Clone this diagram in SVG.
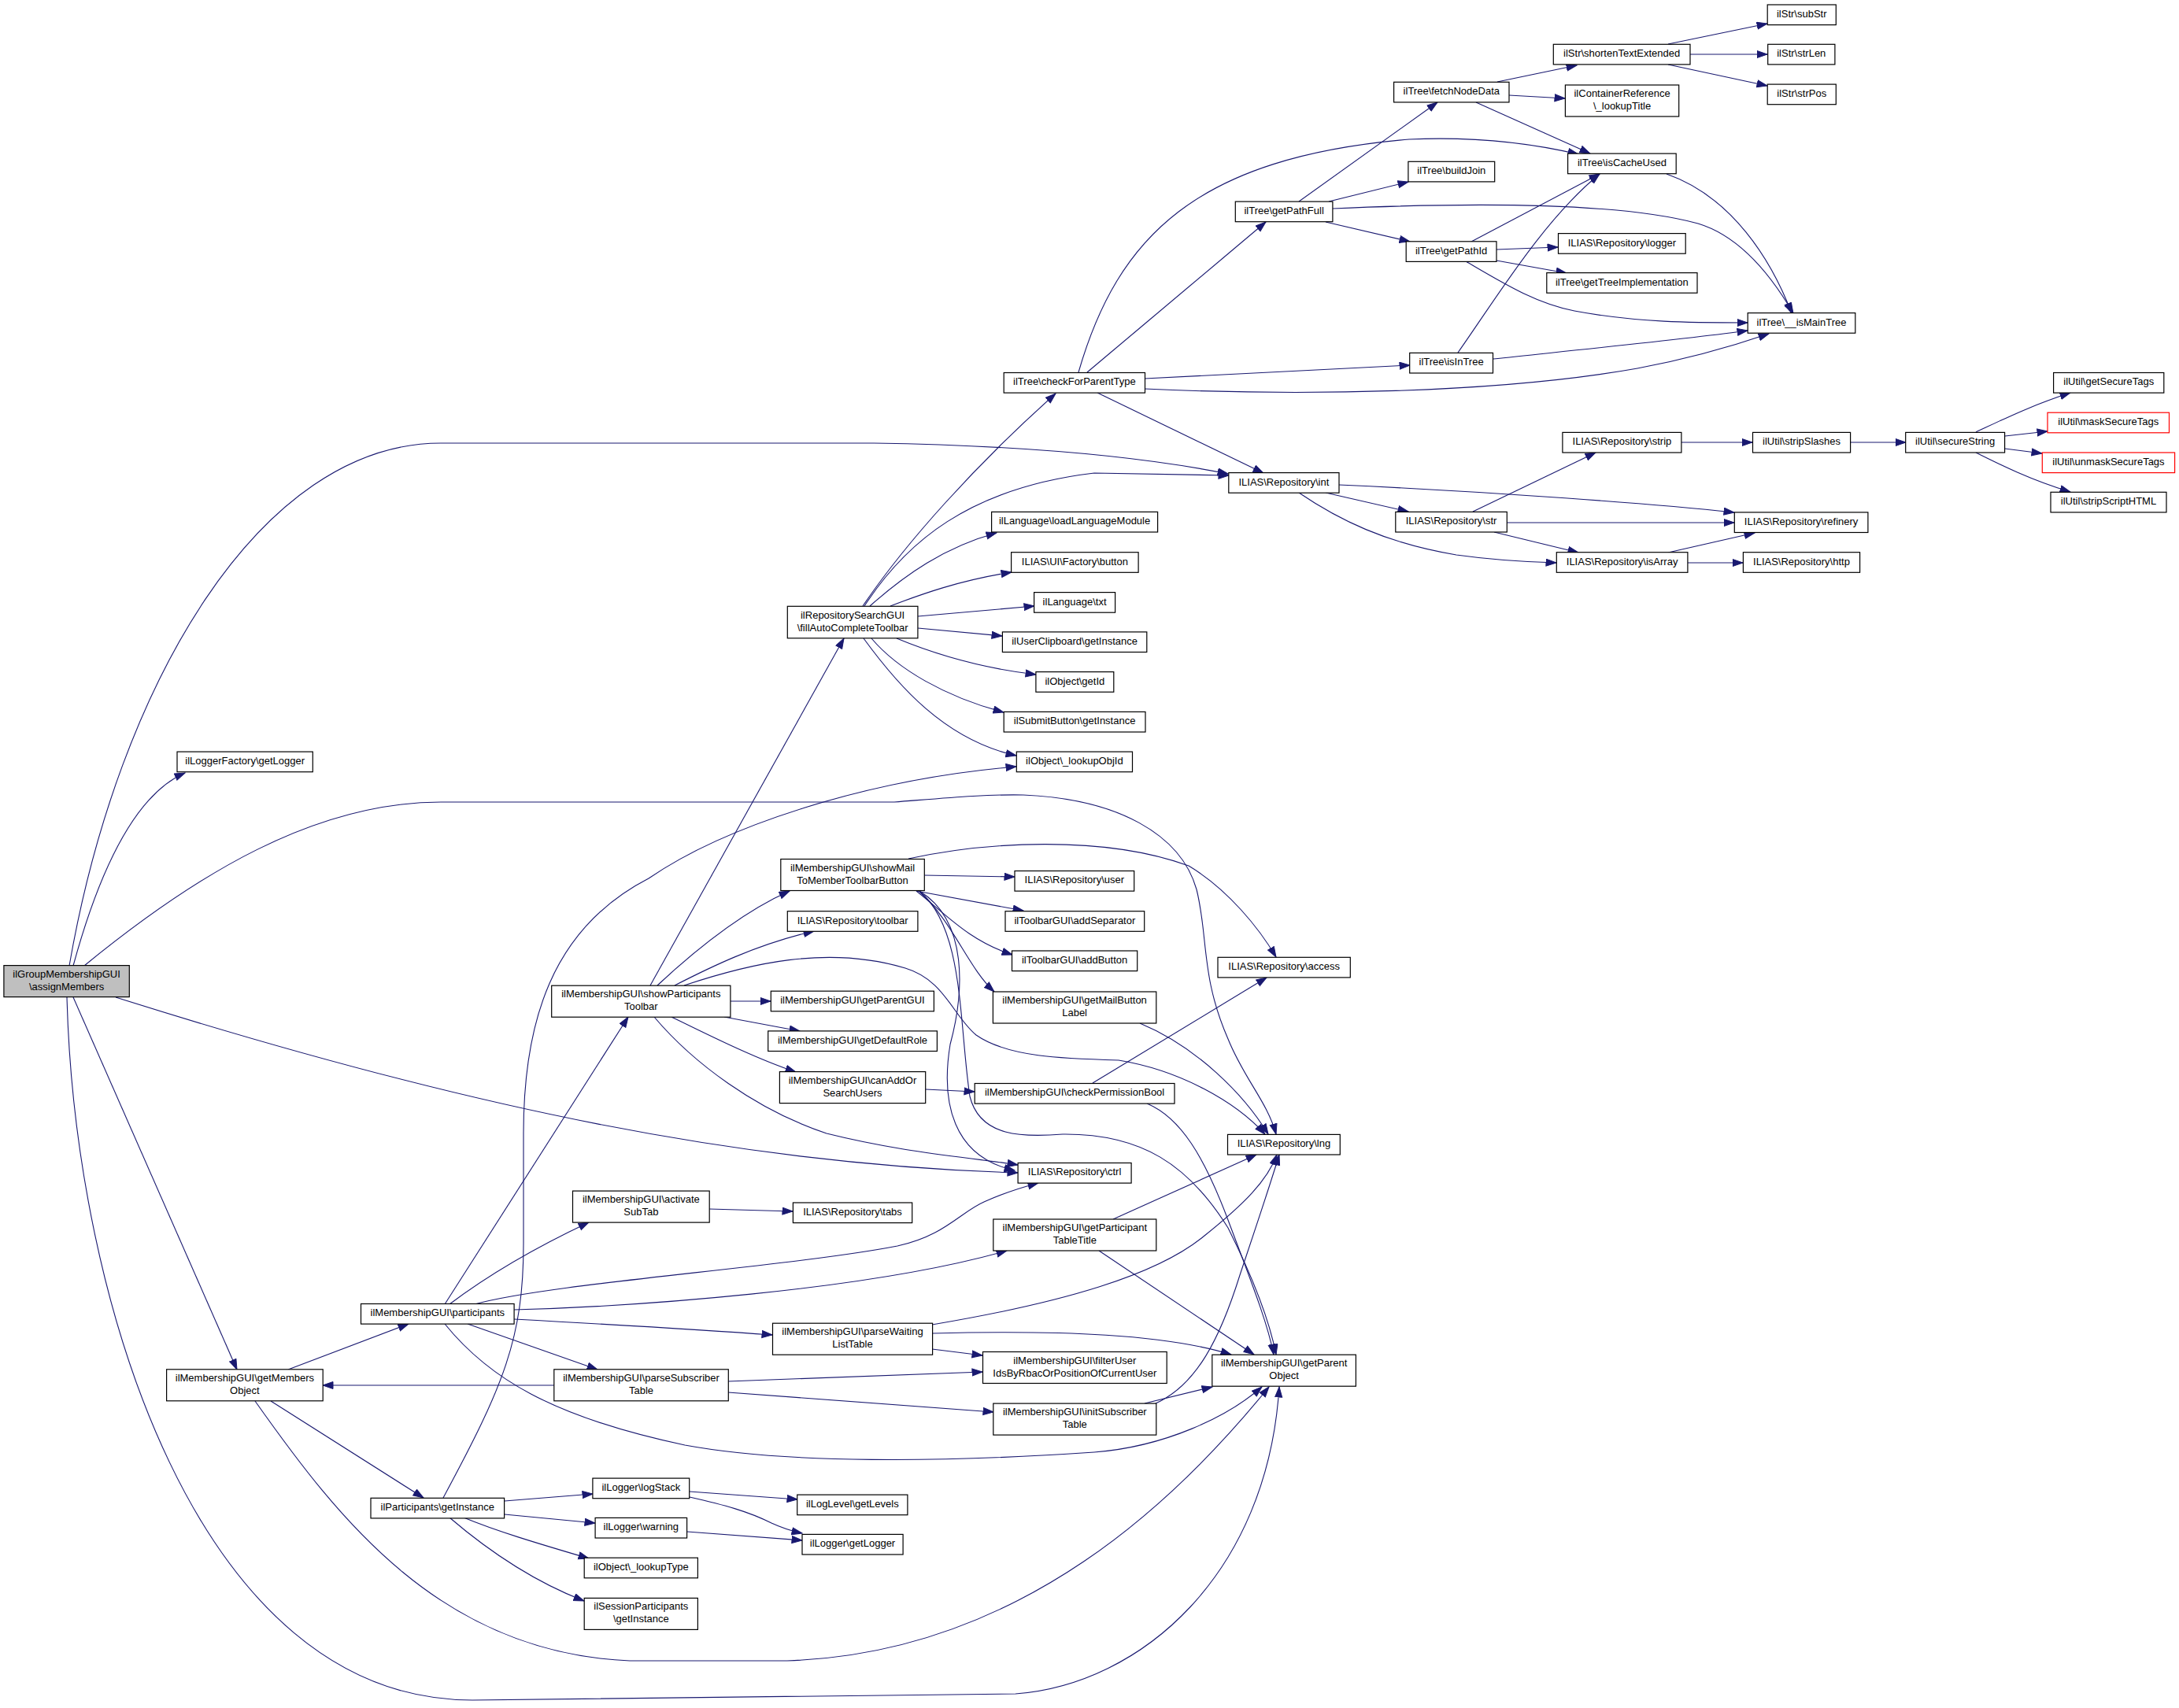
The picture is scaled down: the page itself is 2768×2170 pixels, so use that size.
<svg xmlns="http://www.w3.org/2000/svg" width="2768" height="2170" viewBox="0 0 2768 2170">
<defs>
<style>
.n rect{fill:#ffffff;stroke:#000000;stroke-width:1.2}
.n.root rect{fill:#bfbfbf}
.n.red rect{stroke:#ff0000}
.n text{font-family:"Liberation Sans",Arial,Helvetica,sans-serif;font-size:13px;fill:#000000;text-anchor:middle}
.e path{fill:none;stroke:#191970;stroke-width:1.1;marker-end:url(#arr)}
</style>
<marker id="arr" markerUnits="userSpaceOnUse" markerWidth="15" markerHeight="11" refX="13.5" refY="5" orient="auto">
<path d="M0.5,0.5 L13.5,5 L0.5,9.5 z" fill="#191970" stroke="#191970" stroke-width="1"/>
</marker>
</defs>
<rect x="0" y="0" width="2768" height="2170" fill="#ffffff"/>
<g id="edges" class="e">
<path d="M88,1227 C150,870 330,563 560,563 L1110,563 C1300,566 1450,580 1560,602"/>
<path d="M93,1227 C125,1110 170,1010 235,982"/>
<path d="M107,1227 C250,1110 400,1019 560,1019 L1136,1019 C1200,1014 1250,1009 1300,1010 C1420,1015 1500,1060 1520,1130 C1535,1190 1525,1240 1560,1320 C1580,1370 1610,1400 1621,1441"/>
<path d="M147,1267 C600,1410 950,1480 1293,1490"/>
<path d="M93,1267 L301,1740"/>
<path d="M85,1267 C95,1650 250,2160 600,2160 L1290,2152 C1450,2140 1610,2000 1625,1762"/>
<path d="M366,1740 L519,1682"/>
<path d="M344,1780 L538,1903"/>
<path d="M324,1780 C430,1930 560,2100 800,2110 L1000,2110 C1300,2100 1500,1900 1612,1762"/>
<path d="M565,1657 L798,1292"/>
<path d="M571,1657 C620,1620 680,1585 748,1553"/>
<path d="M603,1657 C700,1630 1000,1610 1140,1583 C1200,1570 1220,1540 1250,1527 C1270,1518 1300,1508 1319,1503"/>
<path d="M653,1664 C800,1660 1100,1640 1279,1589"/>
<path d="M653,1676 C800,1684 900,1690 981,1696"/>
<path d="M594,1682 L759,1740"/>
<path d="M565,1682 C620,1750 700,1800 870,1836 C1000,1860 1200,1858 1390,1845 C1480,1838 1560,1800 1603,1762"/>
<path d="M704,1760 L410,1760"/>
<path d="M925,1755 L1248,1743"/>
<path d="M925,1769 L1262,1794"/>
<path d="M563,1903 C640,1760 665,1700 665,1580 L665,1440 C665,1300 700,1180 824,1116 C920,1050 1100,990 1291,974"/>
<path d="M641,1907 L753,1898"/>
<path d="M641,1924 L756,1935"/>
<path d="M589,1928 C630,1945 680,1960 748,1980"/>
<path d="M571,1928 C620,1970 680,2010 742,2034"/>
<path d="M876,1895 L1013,1905"/>
<path d="M876,1902 C920,1912 950,1920 980,1935 C995,1942 1005,1945 1019,1948"/>
<path d="M873,1946 L1019,1957"/>
<path d="M901,1536 L1007,1539"/>
<path d="M826,1252 L1072,811"/>
<path d="M835,1252 C880,1210 940,1160 1003,1132"/>
<path d="M857,1252 C900,1230 960,1200 1034,1183"/>
<path d="M869,1252 C950,1225 1050,1200 1150,1230 C1200,1245 1210,1290 1240,1315 C1280,1343 1350,1345 1421,1347 C1500,1360 1570,1400 1607,1441"/>
<path d="M928,1272 L979,1272"/>
<path d="M920,1292 L1016,1310"/>
<path d="M853,1292 C900,1315 960,1345 1011,1362"/>
<path d="M831,1292 C880,1350 960,1410 1050,1440 C1150,1465 1230,1470 1293,1480"/>
<path d="M1096,770 C1150,690 1240,590 1341,500"/>
<path d="M1098,770 C1150,690 1230,620 1390,601 L1561,604"/>
<path d="M1105,770 C1150,730 1200,695 1266,677"/>
<path d="M1131,770 C1170,755 1220,737 1285,727"/>
<path d="M1166,783 L1314,770"/>
<path d="M1166,798 L1273,808"/>
<path d="M1139,811 C1180,828 1240,848 1316,857"/>
<path d="M1107,811 C1140,850 1200,885 1275,905"/>
<path d="M1097,811 C1140,870 1200,940 1291,960"/>
<path d="M1370,473 C1420,300 1520,200 1790,177 C1880,173 1950,183 2005,196"/>
<path d="M1381,473 L1608,282"/>
<path d="M1454,481 L1791,464"/>
<path d="M1454,494 C1650,503 1900,500 2080,468 C2150,455 2200,440 2247,424"/>
<path d="M1394,499 L1605,601"/>
<path d="M1650,256 L1826,130"/>
<path d="M1688,256 L1789,231"/>
<path d="M1684,282 L1791,307"/>
<path d="M1693,265 C1850,258 2050,255 2157,284 C2210,300 2250,350 2278,398"/>
<path d="M1902,104 L2003,83"/>
<path d="M1917,121 L1988,125"/>
<path d="M1875,130 L2020,195"/>
<path d="M1869,307 L2032,221"/>
<path d="M1901,317 L1979,314"/>
<path d="M1901,331 L1990,347"/>
<path d="M1862,332 C1910,360 1950,385 2000,395 C2080,410 2150,410 2220,410"/>
<path d="M1852,448 C1900,380 1960,280 2032,221"/>
<path d="M1897,456 C2000,445 2150,430 2220,420"/>
<path d="M2117,221 C2200,250 2250,330 2276,398"/>
<path d="M2119,56 L2245,30"/>
<path d="M2147,69 L2245,69"/>
<path d="M2119,82 L2245,109"/>
<path d="M1684,626 L1789,650"/>
<path d="M1650,626 C1700,660 1760,690 1850,705 C1900,712 1940,714 1977,715"/>
<path d="M1701,616 C1900,625 2100,640 2203,651"/>
<path d="M1871,650 L2027,575"/>
<path d="M1914,664 L2203,664"/>
<path d="M1898,676 L2005,702"/>
<path d="M2119,702 L2229,677"/>
<path d="M2144,715 L2214,715"/>
<path d="M2136,562 L2226,562"/>
<path d="M2351,562 L2421,562"/>
<path d="M2510,549 C2540,535 2580,515 2630,499"/>
<path d="M2547,554 L2601,548"/>
<path d="M2547,570 L2594,576"/>
<path d="M2510,575 C2540,590 2580,610 2630,625"/>
<path d="M1176,1384 L1238,1387"/>
<path d="M1154,1091 C1250,1070 1400,1060 1510,1100 C1560,1130 1600,1180 1621,1216"/>
<path d="M1174,1112 L1289,1114"/>
<path d="M1164,1132 L1300,1157"/>
<path d="M1164,1132 C1200,1160 1230,1195 1286,1213"/>
<path d="M1168,1133 C1210,1170 1230,1230 1263,1260"/>
<path d="M1168,1132 C1230,1170 1225,1260 1207,1327 C1195,1400 1210,1470 1289,1487"/>
<path d="M1168,1132 C1225,1180 1218,1300 1232,1393 C1245,1445 1300,1445 1350,1441 C1450,1440 1510,1480 1560,1560 C1600,1640 1615,1690 1621,1721"/>
<path d="M1388,1376 L1609,1242"/>
<path d="M1457,1402 C1500,1420 1530,1470 1560,1550 C1590,1630 1610,1680 1618,1721"/>
<path d="M1448,1300 C1520,1330 1580,1390 1611,1441"/>
<path d="M1414,1549 L1596,1467"/>
<path d="M1396,1589 L1593,1721"/>
<path d="M1184,1683 C1350,1655 1470,1620 1530,1570 C1580,1530 1610,1500 1622,1467"/>
<path d="M1185,1694 C1350,1690 1480,1695 1564,1721"/>
<path d="M1184,1714 L1248,1722"/>
<path d="M1454,1783 L1540,1762"/>
<path d="M1468,1783 C1520,1760 1550,1700 1575,1620 C1595,1560 1612,1510 1625,1467"/>
</g>
<g id="n_assignMembers" class="n root"><rect x="4.9" y="1226.6" width="159.4" height="40"/><text x="84.6" y="1241.6">ilGroupMembershipGUI</text><text x="84.6" y="1257.6">\assignMembers</text></g>
<g id="n_LoggerFactory_getLogger" class="n"><rect x="225" y="955.1" width="172.3" height="25.6"/><text x="311.2" y="971">ilLoggerFactory\getLogger</text></g>
<g id="n_getMembersObject" class="n"><rect x="211.6" y="1739.8" width="198.6" height="40"/><text x="310.9" y="1754.8">ilMembershipGUI\getMembers</text><text x="310.9" y="1770.8">Object</text></g>
<g id="n_participants" class="n"><rect x="458.5" y="1656.5" width="194.6" height="25.6"/><text x="555.8" y="1672.4">ilMembershipGUI\participants</text></g>
<g id="n_Participants_getInstance" class="n"><rect x="471" y="1903.3" width="169.6" height="25.6"/><text x="555.8" y="1919.2">ilParticipants\getInstance</text></g>
<g id="n_showParticipantsToolbar" class="n"><rect x="700.7" y="1252.2" width="227.2" height="40"/><text x="814.3" y="1267.2">ilMembershipGUI\showParticipants</text><text x="814.3" y="1283.2">Toolbar</text></g>
<g id="n_activateSubTab" class="n"><rect x="727.5" y="1513.1" width="173.7" height="40"/><text x="814.4" y="1528.1">ilMembershipGUI\activate</text><text x="814.4" y="1544.1">SubTab</text></g>
<g id="n_parseSubscriberTable" class="n"><rect x="703.8" y="1739.8" width="221.5" height="40"/><text x="814.5" y="1754.8">ilMembershipGUI\parseSubscriber</text><text x="814.5" y="1770.8">Table</text></g>
<g id="n_logStack" class="n"><rect x="752.9" y="1878.1" width="122.8" height="25.6"/><text x="814.3" y="1894">ilLogger\logStack</text></g>
<g id="n_warning" class="n"><rect x="756.1" y="1928.4" width="116.5" height="25.6"/><text x="814.3" y="1944.3">ilLogger\warning</text></g>
<g id="n_lookupType" class="n"><rect x="742.2" y="1979.2" width="144.2" height="25.6"/><text x="814.3" y="1995.1">ilObject\_lookupType</text></g>
<g id="n_SessionParticipants" class="n"><rect x="742.2" y="2030.4" width="144.2" height="40"/><text x="814.3" y="2045.4">ilSessionParticipants</text><text x="814.3" y="2061.4">\getInstance</text></g>
<g id="n_fillAutoCompleteToolbar" class="n"><rect x="1000.3" y="770.3" width="165.6" height="40.5"/><text x="1083.1" y="785.5">ilRepositorySearchGUI</text><text x="1083.1" y="801.5">\fillAutoCompleteToolbar</text></g>
<g id="n_showMailToMemberToolbarButton" class="n"><rect x="991.8" y="1091.5" width="182.5" height="40"/><text x="1083" y="1106.5">ilMembershipGUI\showMail</text><text x="1083" y="1122.5">ToMemberToolbarButton</text></g>
<g id="n_toolbar" class="n"><rect x="1000.3" y="1157.7" width="165.6" height="25.6"/><text x="1083.1" y="1173.6">ILIAS\Repository\toolbar</text></g>
<g id="n_getParentGUI" class="n"><rect x="979.3" y="1259.2" width="207.1" height="25.6"/><text x="1082.9" y="1275.1">ilMembershipGUI\getParentGUI</text></g>
<g id="n_getDefaultRole" class="n"><rect x="975.7" y="1309.9" width="214.7" height="25.6"/><text x="1083" y="1325.8">ilMembershipGUI\getDefaultRole</text></g>
<g id="n_canAddOrSearchUsers" class="n"><rect x="990.4" y="1361.6" width="185.3" height="40"/><text x="1083" y="1376.6">ilMembershipGUI\canAddOr</text><text x="1083" y="1392.6">SearchUsers</text></g>
<g id="n_tabs" class="n"><rect x="1007.4" y="1528" width="151.3" height="25.6"/><text x="1083" y="1543.9">ILIAS\Repository\tabs</text></g>
<g id="n_parseWaitingListTable" class="n"><rect x="981.5" y="1681.2" width="203.1" height="40"/><text x="1083" y="1696.2">ilMembershipGUI\parseWaiting</text><text x="1083" y="1712.2">ListTable</text></g>
<g id="n_getLevels" class="n"><rect x="1012.7" y="1899.1" width="140.2" height="25.6"/><text x="1082.8" y="1915">ilLogLevel\getLevels</text></g>
<g id="n_Logger_getLogger" class="n"><rect x="1019" y="1949.4" width="128.1" height="25.6"/><text x="1083" y="1965.3">ilLogger\getLogger</text></g>
<g id="n_checkForParentType" class="n"><rect x="1275.2" y="473.5" width="179.3" height="25.6"/><text x="1364.9" y="489.4">ilTree\checkForParentType</text></g>
<g id="n_loadLanguageModule" class="n"><rect x="1259.6" y="650.4" width="211" height="25.6"/><text x="1365.1" y="666.3">ilLanguage\loadLanguageModule</text></g>
<g id="n_button" class="n"><rect x="1284.6" y="701.7" width="161.5" height="25.6"/><text x="1365.4" y="717.6">ILIAS\UI\Factory\button</text></g>
<g id="n_txt" class="n"><rect x="1313.6" y="752.6" width="103" height="25.6"/><text x="1365.1" y="768.5">ilLanguage\txt</text></g>
<g id="n_UserClipboard_getInstance" class="n"><rect x="1273.4" y="802.9" width="183.4" height="25.6"/><text x="1365.1" y="818.8">ilUserClipboard\getInstance</text></g>
<g id="n_getId" class="n"><rect x="1315.9" y="853.6" width="98.9" height="25.6"/><text x="1365.35" y="869.5">ilObject\getId</text></g>
<g id="n_SubmitButton_getInstance" class="n"><rect x="1275.2" y="904.4" width="179.8" height="25.6"/><text x="1365.1" y="920.3">ilSubmitButton\getInstance</text></g>
<g id="n_lookupObjId" class="n"><rect x="1291.3" y="955.1" width="147.2" height="25.6"/><text x="1364.9" y="971">ilObject\_lookupObjId</text></g>
<g id="n_user" class="n"><rect x="1289" y="1106.5" width="151.7" height="25.6"/><text x="1364.85" y="1122.4">ILIAS\Repository\user</text></g>
<g id="n_addSeparator" class="n"><rect x="1277" y="1157.7" width="176.7" height="25.6"/><text x="1365.35" y="1173.6">ilToolbarGUI\addSeparator</text></g>
<g id="n_addButton" class="n"><rect x="1285.5" y="1208" width="159.2" height="25.6"/><text x="1365.1" y="1223.9">ilToolbarGUI\addButton</text></g>
<g id="n_getMailButtonLabel" class="n"><rect x="1261.4" y="1260" width="207.4" height="40"/><text x="1365.1" y="1275">ilMembershipGUI\getMailButton</text><text x="1365.1" y="1291">Label</text></g>
<g id="n_checkPermissionBool" class="n"><rect x="1238.2" y="1376.5" width="253.8" height="25.6"/><text x="1365.1" y="1392.4">ilMembershipGUI\checkPermissionBool</text></g>
<g id="n_ctrl" class="n"><rect x="1293.1" y="1477.5" width="144" height="25.6"/><text x="1365.1" y="1493.4">ILIAS\Repository\ctrl</text></g>
<g id="n_getParticipantTableTitle" class="n"><rect x="1261.8" y="1549" width="207" height="40"/><text x="1365.3" y="1564">ilMembershipGUI\getParticipant</text><text x="1365.3" y="1580">TableTitle</text></g>
<g id="n_filterUserIds" class="n"><rect x="1248.5" y="1717.5" width="233.7" height="40"/><text x="1365.35" y="1732.5">ilMembershipGUI\filterUser</text><text x="1365.35" y="1748.5">IdsByRbacOrPositionOfCurrentUser</text></g>
<g id="n_initSubscriberTable" class="n"><rect x="1261.8" y="1783.1" width="207" height="40"/><text x="1365.3" y="1798.1">ilMembershipGUI\initSubscriber</text><text x="1365.3" y="1814.1">Table</text></g>
<g id="n_getPathFull" class="n"><rect x="1569.3" y="256.1" width="123.6" height="25.6"/><text x="1631.1" y="272">ilTree\getPathFull</text></g>
<g id="n_int" class="n"><rect x="1560.8" y="600.6" width="140.2" height="25.6"/><text x="1630.9" y="616.5">ILIAS\Repository\int</text></g>
<g id="n_access" class="n"><rect x="1547" y="1216.3" width="168.3" height="25.6"/><text x="1631.15" y="1232.2">ILIAS\Repository\access</text></g>
<g id="n_lng" class="n"><rect x="1559.5" y="1441.4" width="142.8" height="25.6"/><text x="1630.9" y="1457.3">ILIAS\Repository\lng</text></g>
<g id="n_getParentObject" class="n"><rect x="1539.8" y="1721.2" width="182.6" height="40"/><text x="1631.1" y="1736.2">ilMembershipGUI\getParent</text><text x="1631.1" y="1752.2">Object</text></g>
<g id="n_fetchNodeData" class="n"><rect x="1770.6" y="104.3" width="146.4" height="25.6"/><text x="1843.8" y="120.2">ilTree\fetchNodeData</text></g>
<g id="n_buildJoin" class="n"><rect x="1788.9" y="205.3" width="109.8" height="25.6"/><text x="1843.8" y="221.2">ilTree\buildJoin</text></g>
<g id="n_getPathId" class="n"><rect x="1786.2" y="306.8" width="114.8" height="25.6"/><text x="1843.6" y="322.7">ilTree\getPathId</text></g>
<g id="n_isInTree" class="n"><rect x="1790.7" y="448.4" width="105.8" height="25.6"/><text x="1843.6" y="464.3">ilTree\isInTree</text></g>
<g id="n_str" class="n"><rect x="1772.8" y="650.4" width="141.5" height="25.6"/><text x="1843.55" y="666.3">ILIAS\Repository\str</text></g>
<g id="n_shortenTextExtended" class="n"><rect x="1973.3" y="56.3" width="173.7" height="25.6"/><text x="2060.15" y="72.2">ilStr\shortenTextExtended</text></g>
<g id="n_ContainerReference_lookupTitle" class="n"><rect x="1988.4" y="108" width="144.3" height="40"/><text x="2060.55" y="123">ilContainerReference</text><text x="2060.55" y="139">\_lookupTitle</text></g>
<g id="n_isCacheUsed" class="n"><rect x="1991.6" y="195.1" width="137.6" height="25.6"/><text x="2060.4" y="211">ilTree\isCacheUsed</text></g>
<g id="n_logger" class="n"><rect x="1979.5" y="296.6" width="161.7" height="25.6"/><text x="2060.35" y="312.5">ILIAS\Repository\logger</text></g>
<g id="n_getTreeImplementation" class="n"><rect x="1964.8" y="346.6" width="191.2" height="25.6"/><text x="2060.4" y="362.5">ilTree\getTreeImplementation</text></g>
<g id="n_strip" class="n"><rect x="1984.9" y="549.4" width="151" height="25.6"/><text x="2060.4" y="565.3">ILIAS\Repository\strip</text></g>
<g id="n_isArray" class="n"><rect x="1977.3" y="701.7" width="166.6" height="25.6"/><text x="2060.6" y="717.6">ILIAS\Repository\isArray</text></g>
<g id="n_subStr" class="n"><rect x="2245.2" y="6" width="87.1" height="25.6"/><text x="2288.75" y="21.9">ilStr\subStr</text></g>
<g id="n_strLen" class="n"><rect x="2245.7" y="56.3" width="85.2" height="25.6"/><text x="2288.3" y="72.2">ilStr\strLen</text></g>
<g id="n_strPos" class="n"><rect x="2245.2" y="107.1" width="87.1" height="25.6"/><text x="2288.75" y="123">ilStr\strPos</text></g>
<g id="n_isMainTree" class="n"><rect x="2220.2" y="397.6" width="136.6" height="25.6"/><text x="2288.5" y="413.5">ilTree\__isMainTree</text></g>
<g id="n_stripSlashes" class="n"><rect x="2226.5" y="549.4" width="124.1" height="25.6"/><text x="2288.55" y="565.3">ilUtil\stripSlashes</text></g>
<g id="n_refinery" class="n"><rect x="2203.3" y="650.9" width="169.6" height="25.6"/><text x="2288.1" y="666.8">ILIAS\Repository\refinery</text></g>
<g id="n_http" class="n"><rect x="2214.4" y="701.7" width="148.2" height="25.6"/><text x="2288.5" y="717.6">ILIAS\Repository\http</text></g>
<g id="n_secureString" class="n"><rect x="2420.7" y="549.4" width="125.9" height="25.6"/><text x="2483.65" y="565.3">ilUtil\secureString</text></g>
<g id="n_getSecureTags" class="n"><rect x="2608.6" y="473.5" width="140.2" height="25.6"/><text x="2678.7" y="489.4">ilUtil\getSecureTags</text></g>
<g id="n_maskSecureTags" class="n red"><rect x="2601" y="524.2" width="154.5" height="25.6"/><text x="2678.25" y="540.1">ilUtil\maskSecureTags</text></g>
<g id="n_unmaskSecureTags" class="n red"><rect x="2594.3" y="575" width="168.3" height="25.6"/><text x="2678.45" y="590.9">ilUtil\unmaskSecureTags</text></g>
<g id="n_stripScriptHTML" class="n"><rect x="2605" y="625.3" width="147" height="25.6"/><text x="2678.5" y="641.2">ilUtil\stripScriptHTML</text></g>
</svg>
